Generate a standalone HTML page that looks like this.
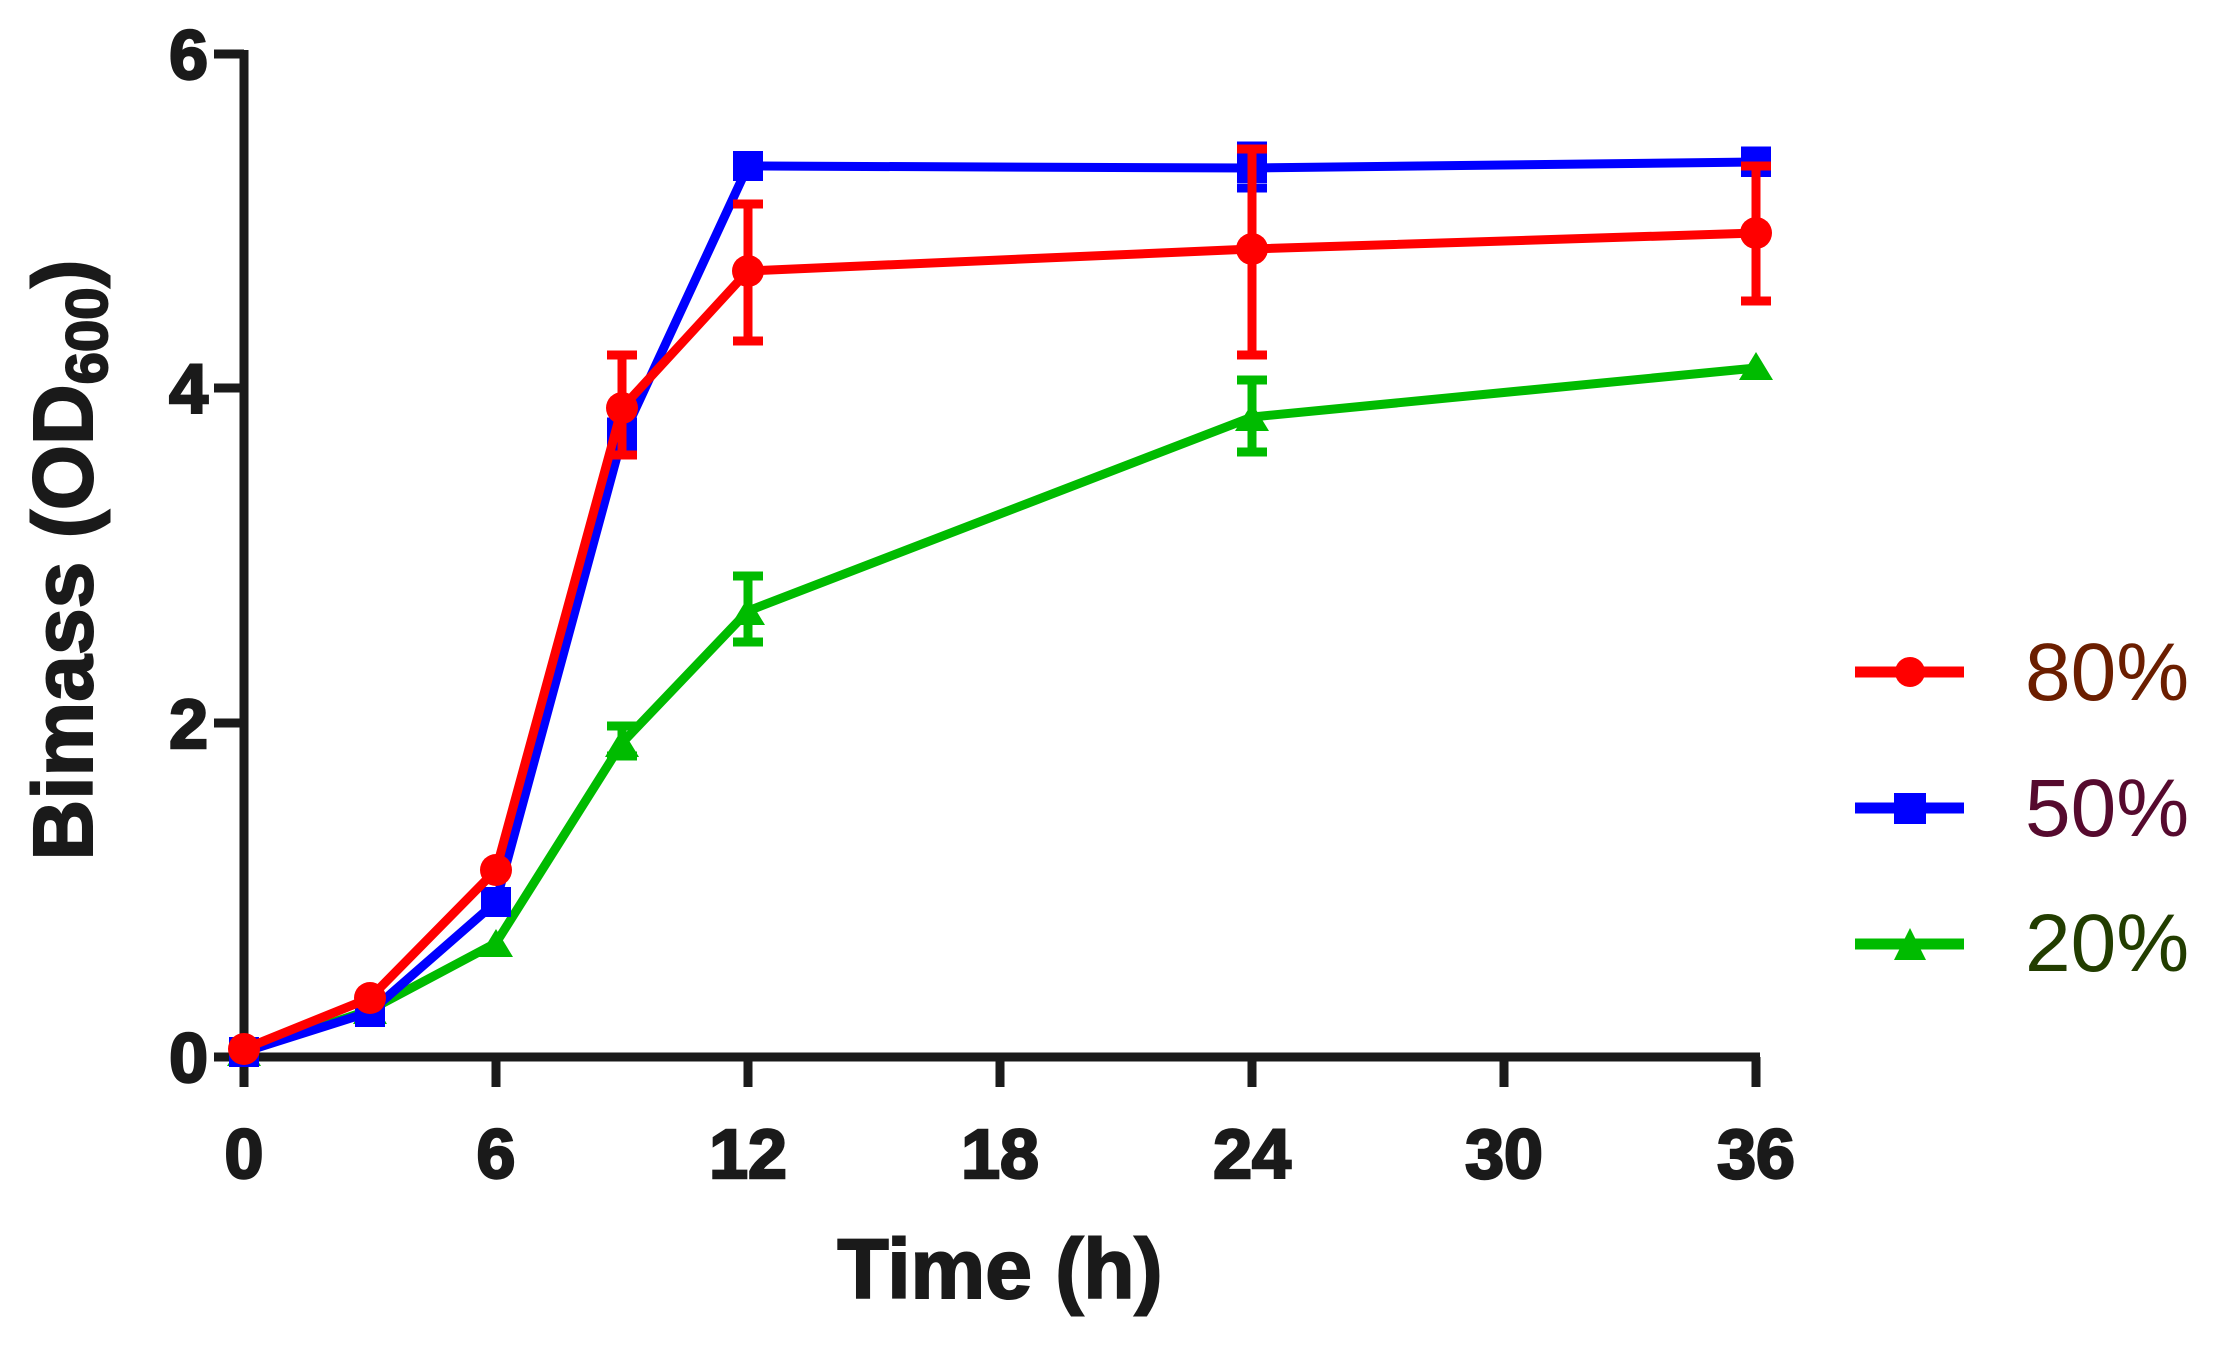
<!DOCTYPE html>
<html><head><meta charset="utf-8"><style>
html,body{margin:0;padding:0;background:#fff;}
svg{display:block;}
text{font-family:"Liberation Sans",Arial,sans-serif;}
</style></head><body>
<svg width="2215" height="1350" viewBox="0 0 2215 1350" xmlns="http://www.w3.org/2000/svg">
<g stroke="#1a1a1a" stroke-width="9" fill="none">
<line x1="244" y1="50" x2="244" y2="1061"/>
<line x1="240" y1="1057" x2="1760" y2="1057"/>
<line x1="214" y1="54" x2="244" y2="54"/>
<line x1="214" y1="388" x2="244" y2="388"/>
<line x1="214" y1="723" x2="244" y2="723"/>
<line x1="214" y1="1057" x2="244" y2="1057"/>
<line x1="244" y1="1057" x2="244" y2="1087"/>
<line x1="496" y1="1057" x2="496" y2="1087"/>
<line x1="748" y1="1057" x2="748" y2="1087"/>
<line x1="1000" y1="1057" x2="1000" y2="1087"/>
<line x1="1252" y1="1057" x2="1252" y2="1087"/>
<line x1="1504" y1="1057" x2="1504" y2="1087"/>
<line x1="1756" y1="1057" x2="1756" y2="1087"/>
</g>
<g font-weight="bold" font-size="70" fill="#1a1a1a" stroke="#1a1a1a" stroke-width="2.5" text-anchor="end">
<text x="208" y="79">6</text>
<text x="208" y="413">4</text>
<text x="208" y="748">2</text>
<text x="208" y="1082">0</text>
</g>
<g font-weight="bold" font-size="70" fill="#1a1a1a" stroke="#1a1a1a" stroke-width="2.5" text-anchor="middle">
<text x="244" y="1178">0</text>
<text x="496" y="1178">6</text>
<text x="748" y="1178">12</text>
<text x="1000" y="1178">18</text>
<text x="1252" y="1178">24</text>
<text x="1504" y="1178">30</text>
<text x="1756" y="1178">36</text>
</g>
<text x="1000" y="1298" font-weight="bold" font-size="84" fill="#1a1a1a" stroke="#1a1a1a" stroke-width="2" text-anchor="middle">Time (h)</text>
<text transform="translate(92,560) rotate(-90)" font-weight="bold" font-size="84" fill="#1a1a1a" stroke="#1a1a1a" stroke-width="2" text-anchor="middle">Bimass (OD<tspan font-size="58" dy="15">600</tspan><tspan dy="-15">)</tspan></text>

<g stroke="#00bb00" stroke-width="9" fill="none">
<polyline points="244,1052 370,1010 496,943 622,743 748,611 1252,417 1756,368"/>
<path d="M622,756V726M607,756h30M607,726h30M748,642V576M733,642h30M733,576h30M1252,452V380M1237,452h30M1237,380h30"/>
</g>
<g fill="#00bb00">
<path d="M244,1038 l17,28 h-34z M370,996 l17,28 h-34z M496,929 l17,28 h-34z M622,729 l17,28 h-34z M748,597 l17,28 h-34z M1252,403 l17,28 h-34z M1756,352 l17,28 h-34z"/>
</g>
<g stroke="#0000ff" stroke-width="9" fill="none">
<polyline points="244,1052 370,1012 496,902 622,438 748,166 1252,168 1756,162"/>
<path d="M622,455V422M607,455h30M607,422h30M1252,188V146M1237,188h30M1237,146h30M1756,171V151M1741,171h30M1741,151h30"/>
</g>
<g fill="#0000ff">
<rect x="229" y="1037" width="30" height="30"/><rect x="355" y="997" width="30" height="30"/>
<rect x="481" y="887" width="30" height="30"/><rect x="607" y="423" width="30" height="30"/>
<rect x="733" y="151" width="30" height="30"/><rect x="1237" y="153" width="30" height="30"/>
<rect x="1741" y="147" width="30" height="30"/>
</g>
<g stroke="#ff0000" stroke-width="9" fill="none">
<polyline points="244,1049 370,998 496,870 622,408 748,271 1252,249 1756,233"/>
<path d="M622,455V355M607,455h30M607,355h30M748,341V204M733,341h30M733,204h30M1252,355V149M1237,355h30M1237,149h30M1756,301V166M1741,301h30M1741,166h30"/>
</g>
<g fill="#ff0000">
<circle cx="244" cy="1049" r="16"/><circle cx="370" cy="998" r="16"/><circle cx="496" cy="870" r="16"/>
<circle cx="622" cy="408" r="16"/><circle cx="748" cy="271" r="16"/><circle cx="1252" cy="249" r="16"/>
<circle cx="1756" cy="233" r="16"/>
</g>
<line x1="1855" y1="672" x2="1964" y2="672" stroke="#ff0000" stroke-width="11"/>
<circle cx="1910" cy="672" r="15" fill="#ff0000"/>
<line x1="1855" y1="808" x2="1964" y2="808" stroke="#0000ff" stroke-width="11"/>
<rect x="1894" y="793" width="32" height="31" fill="#0000ff"/>
<line x1="1855" y1="944" x2="1964" y2="944" stroke="#00bb00" stroke-width="11"/>
<path d="M1910,928 l16,32 h-32z" fill="#00bb00"/>
<g font-size="82">
<text x="2025" y="700" fill="#6b1e00">80%</text>
<text x="2025" y="836" fill="#560a2e">50%</text>
<text x="2025" y="971" fill="#223d00">20%</text>
</g>
</svg>
</body></html>
